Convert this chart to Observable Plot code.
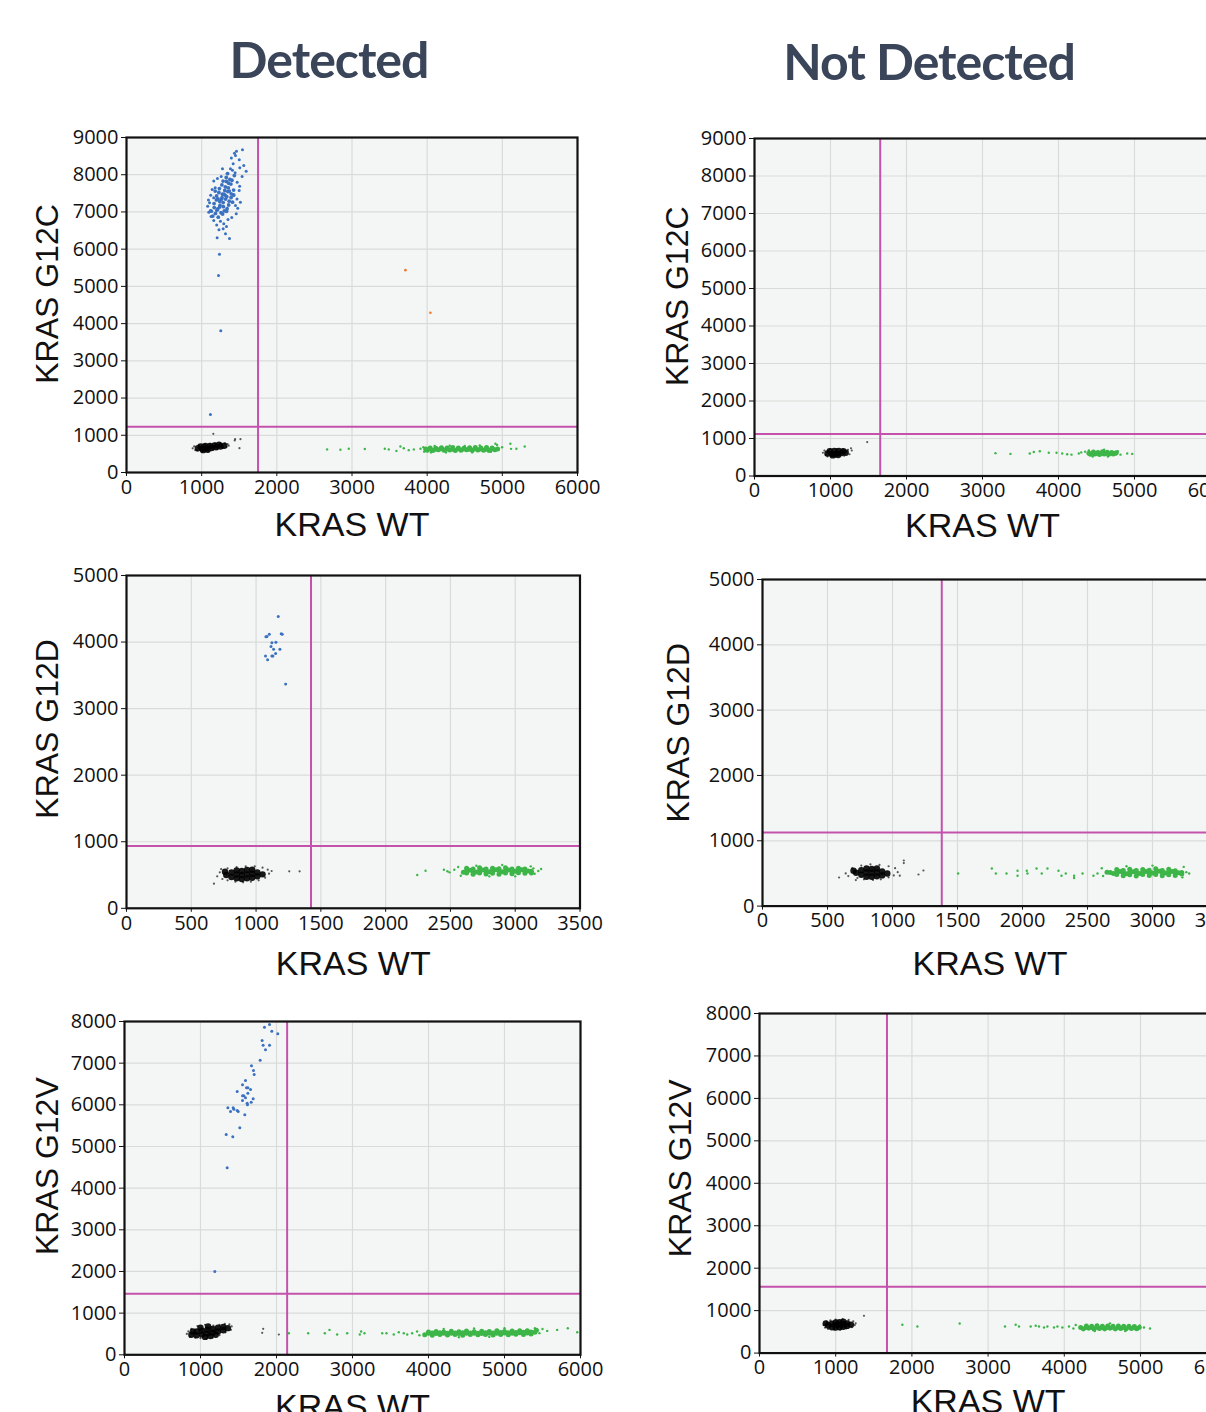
<!DOCTYPE html>
<html>
<head>
<meta charset="utf-8">
<script src="https://cdn.jsdelivr.net/npm/d3@7"></script>
<script src="https://cdn.jsdelivr.net/npm/@observablehq/plot@0.6"></script>
<style>
  html, body { margin: 0; padding: 0; background: #fff; }
  #page { position: relative; width: 1206px; height: 1412px; overflow: hidden; background: #fff; }
  .title { position: absolute; width: 420px; text-align: center; font-family: Lato, "Open Sans", sans-serif; font-weight: 700; font-size: 50px; letter-spacing: -1px; line-height: 50px; color: #3b4559; white-space: nowrap; }
  .panel { position: absolute; }
</style>
</head>
<body>
<div id="page">
  <div class="title" style="left:119px; top:34px;">Detected</div>
  <div class="title" style="left:719px; top:36px;">Not Detected</div>
</div>
<script>
// ---------- tick values ----------
const xTicks6000 = [0, 1000, 2000, 3000, 4000, 5000, 6000];
const xTicks3500 = [0, 500, 1000, 1500, 2000, 2500, 3000, 3500];
const yTicks9000 = [0, 1000, 2000, 3000, 4000, 5000, 6000, 7000, 8000, 9000];
const yTicks5000 = [0, 1000, 2000, 3000, 4000, 5000];
const yTicks8000 = [0, 1000, 2000, 3000, 4000, 5000, 6000, 7000, 8000];

const columnTitles = ["Detected", "Not Detected"];
const xAxisLabel = "KRAS WT";
const yAxisLabels = ["KRAS G12C", "KRAS G12D", "KRAS G12V"];

// thresholds [x, y] per panel
const thresholds = [[1750, 1230], [1654, 1117], [1424, 935], [1379, 1127], [2140, 1464], [1673, 1562]];

// ---------- Panel 1: G12C detected ----------
const p1BlueCore = [[1148,6890],[1221,6860],[1279,6945],[1128,7022],[1203,7047],[1258,6978],[1331,7019],
  [1167,7118],[1214,7082],[1289,7142],[1338,7089],[1165,7224],[1244,7176],[1286,7251],[1359,7186],[1411,7262],
  [1196,7322],[1241,7279],[1318,7347],[1366,7288],[1199,7428],[1271,7381],[1314,7447],[1392,7388],[1425,7459],
  [1229,7523],[1276,7478],[1349,7546],[1393,7487],[1236,7628],[1308,7577],[1355,7649],[1425,7588],
  [1269,7726],[1315,7672],[1389,7748],[1285,7828],[1359,7774],[1403,7851],[1327,7925],[1375,7874],[1345,8032],
  [1435,7978],[1183,6960],[1239,7130],[1301,7030],[1262,7340],[1334,7410],[1218,7350],[1367,7560],[1298,7480],
  [1180,7560],[1330,7820]];
const p1Blue = [[1543,8671],[1463,8633],[1436,8580],[1450,8518],[1592,8096],[1507,8187],[1419,8294],[1383,8160],
  [1277,8160],[1339,8026],[1161,7828],[1538,7953],[1472,7800],[1499,7577],[1428,7443],[1450,7174],[1117,7040],
  [1095,6994],[1161,6771],[1294,6683],[1286,6548],[1330,6610],[1317,6414],[1206,6306],[1370,6288],[1250,6753],
  [1105,7250],[1120,7450],[1180,7650],[1210,7900],[1470,7350],[1480,7100],[1400,6850],[1350,6800],[1200,6650],
  [1560,8250],[1260,7950],[1500,8400],[1395,8450],[1140,7600],[1080,7150],[1460,6950],[1125,6880],[1505,7690],
  [1445,8050],[1230,6520],[1160,7380],[1515,7260],[1090,7320],[1410,8120],
  [1237,5866],[1224,5293],[1254,3807],[1117,1558]];
const p1BlackCore = [[950,650],[1010,640],[1070,650],[1130,660],[1190,680],[1250,700],[1300,720],[990,700],
  [1050,710],[1110,715],[1170,730],[1230,745],[1020,600],[1080,610]];
const p1Black = [[880,650],[900,700],[915,600],[960,740],[1040,760],[1110,770],[1180,785],[1250,790],[1310,780],
  [1345,760],[1360,720],[1330,690],[1280,660],[1210,630],[1150,610],[1090,575],[1010,570],[940,590],
  [1155,1040],[1445,895],[1516,895],[1503,653],[1440,860]];
const p1GreenCore = [[4000,600],[4075,590],[4150,610],[4225,595],[4300,605],[4375,590],[4450,600],[4525,610],
  [4600,595],[4675,605],[4750,600],[4825,590],[4900,610],[4040,660],[4115,650],[4190,665],[4265,655],[4340,670],
  [4415,660],[4490,650],[4565,665],[4640,675],[4715,660],[4790,670],[4865,655],
  [3980,630],[4037,630],[4112,625],[4187,635],[4262,630],[4337,625],[4412,635],[4487,630],[4562,625],[4637,635],
  [4712,630],[4787,625],[4862,635],[4937,630]];
const p1Green = [[2669,620],[2846,610],[2957,640],[3170,630],[3436,640],[3489,620],[3591,580],[3644,700],[3689,650],
  [3755,600],[3822,620],[3911,640],[3960,560],[4100,710],[4300,720],[4500,710],[4700,730],[4930,740],[4997,680],
  [5107,771],[5116,636],[5187,640],[5298,699],[4908,771],[4050,540],[4250,540],[4600,540],[4850,560],[3950,680]];
const p1Orange = [[3711,5436],[4043,4291]];

// ---------- Panel 2: G12C not detected ----------
const p2BlackCore = [[960,600],[1020,590],[1080,600],[1140,610],[1200,620],[990,660],[1050,670],[1110,665],
  [1170,660],[1030,550],[1100,560]];
const p2Black = [[900,620],[920,680],[940,560],[1000,720],[1080,720],[1160,710],[1230,700],[1270,740],[1280,680],
  [1250,580],[1180,540],[1060,510],[960,520],[1483,904]];
const p2GreenCore = [[4420,580],[4480,590],[4540,575],[4600,585],[4660,580],[4720,590],[4460,640],[4520,630],
  [4580,645],[4640,635],[4700,630],[4760,620],
  [4400,610],[4450,610],[4510,605],[4570,615],[4630,610],[4690,605],[4750,610]];
const p2Green = [[3171,610],[3368,590],[3622,600],[3675,640],[3754,660],[3872,620],[3974,620],[4049,600],[4114,580],
  [4171,570],[4267,600],[4299,630],[4350,650],[4400,680],[4816,570],[4904,600],[4970,590],[4780,660],[4600,700],
  [4450,520],[4650,520]];

// ---------- Panel 3: G12D detected ----------
const p3Blue = [[1171,4384],[1084,4084],[1102,4119],[1076,4079],[1194,4124],[1202,4119],[1122,3988],[1153,3998],
  [1115,3934],[1135,3893],[1184,3893],[1151,3829],[1122,3789],[1130,3789],[1073,3789],[1089,3733],[1228,3368]];
const p3BlackCore = [[770,500],[810,470],[810,540],[850,450],[850,510],[850,570],[890,440],[890,500],[890,560],
  [930,450],[930,510],[930,575],[970,460],[970,520],[970,580],[1010,480],[1010,540],[1050,510],[760,550]];
const p3Black = [[700,480],[720,540],[740,440],[780,420],[840,400],[900,390],[960,400],[1020,420],[1070,460],
  [1100,520],[1090,580],[1050,610],[990,630],[920,630],[850,620],[780,600],[730,590],[1256,556],[1336,556],
  [675,370],[1120,560]];
const p3GreenCore = [[2600,540],[2650,570],[2700,545],[2750,575],[2800,550],[2850,580],[2900,550],[2950,575],
  [3000,555],[3050,580],[3100,560],[2625,600],[2725,610],[2825,600],[2925,610],[3025,600],[2675,510],[2775,515],
  [2875,510],[2975,520],[3075,525],
  [2625,560],[2675,555],[2725,560],[2775,555],[2825,565],[2875,560],[2925,555],[2975,560],[3025,565],[3075,560],
  [3125,555],[2675,590],[2775,590],[2875,595],[2975,590],[3075,590],[2625,530],[2725,530],[2825,525],[2925,530],
  [3025,535],[3125,530]];
const p3Green = [[2244,500],[2308,565],[2477,556],[2493,540],[2530,580],[2560,620],[2580,490],[3140,600],[3178,560],
  [3200,590],[3150,520],[3120,630],[2700,640],[2900,650],[2800,480],[3000,480],[2450,580]];

// ---------- Panel 4: G12D not detected ----------
const p4BlackCore = [[720,510],[760,480],[760,550],[800,450],[800,515],[800,575],[840,450],[840,510],[840,570],
  [880,455],[880,515],[880,575],[920,470],[920,530],[960,500],[700,540]];
const p4Black = [[640,500],[660,460],[690,580],[730,430],[780,410],[850,400],[910,410],[970,440],[1010,470],
  [1040,520],[1020,580],[970,610],[900,630],[830,640],[760,620],[1087,698],[1087,658],[1200,484],[1238,545],
  [589,438],[718,398],[1056,465]];
const p4GreenCore = [[2700,500],[2750,530],[2800,495],[2850,525],[2900,500],[2950,530],[3000,505],[3050,535],
  [3100,505],[3150,530],[3200,510],[2725,560],[2825,565],[2925,560],[3025,570],[3125,565],[2775,465],[2875,460],
  [2975,470],[3075,465],[3175,470],[2650,520],
  [2675,515],[2725,515],[2775,510],[2825,515],[2875,520],[2925,515],[2975,510],[3025,515],[3075,520],[3125,515],
  [3175,510],[3225,515],[2775,545],[2875,545],[2975,550],[3075,545],[3175,540],[2725,485],[2825,480],[2925,485],
  [3025,485],[3125,480],[3225,490]];
const p4Green = [[1505,499],[1764,576],[1795,499],[1877,499],[1962,541],[1962,464],[2033,541],[2038,499],[2108,576],
  [2148,499],[2192,576],[2277,541],[2300,464],[2333,499],[2397,464],[2397,429],[2462,499],[2546,464],[2577,499],
  [2610,580],[2620,460],[3240,600],[3260,520],[3282,499],[3230,440],[3000,620],[2800,610]];

// ---------- Panel 5: G12V detected ----------
const p5Blue = [[1842,7862],[1908,7927],[1938,7766],[2017,7703],[1811,7543],[1824,7430],[1908,7430],[1855,7319],
  [1785,7070],[1671,6935],[1697,6823],[1706,6727],[1592,6583],[1553,6479],[1623,6407],[1605,6407],[1658,6367],
  [1483,6319],[1623,6279],[1553,6215],[1570,6215],[1592,6167],[1693,6143],[1553,6103],[1667,6062],[1614,6038],
  [1618,6000],[1360,5928],[1430,5928],[1439,5894],[1395,5839],[1483,5863],[1496,5839],[1583,5760],[1517,5448],
  [1338,5287],[1425,5232],[1351,4488],[1188,1999]];
const p5BlackCore = [[880,480],[950,470],[950,560],[1020,490],[1020,580],[1090,510],[1090,600],[1160,530],
  [1160,620],[1230,560],[1230,650],[1300,590],[1300,670],[1360,640],[1060,430],[1130,450],[1200,480],[900,560],
  [1000,650],[1100,680]];
const p5Black = [[820,500],[840,560],[860,430],[930,410],[1000,400],[1080,390],[1160,410],[1250,470],[1330,540],
  [1400,600],[1410,680],[1380,730],[1320,740],[1250,720],[1170,700],[1060,720],[960,690],[880,620],
  [1825,624],[1812,528],[2031,487]];
const p5GreenCore = [[3950,480],[4050,470],[4150,490],[4250,475],[4350,485],[4450,470],[4550,490],[4650,480],
  [4750,485],[4850,475],[4950,490],[5050,480],[5150,495],[5250,485],[5350,500],[4000,550],[4100,560],[4200,545],
  [4300,565],[4400,555],[4500,570],[4600,555],[4700,565],[4800,560],[4900,575],[5000,560],[5100,570],[5200,580],
  [5300,575],[5420,590],
  [4000,515],[4100,510],[4200,520],[4300,515],[4400,510],[4500,520],[4600,515],[4700,510],[4800,520],[4900,515],
  [5000,525],[5100,520],[5200,530],[5300,525],[5400,540],[4050,525],[4150,530],[4250,520],[4350,525],[4450,530],
  [4550,525],[4650,520],[4750,530],[4850,525],[4950,535],[5050,530],[5150,535],[5250,540],[5350,545]];
const p5Green = [[2162,518],[2417,518],[2636,518],[2697,598],[2798,486],[2930,518],[3096,486],[3114,558],[3158,518],
  [3391,518],[3447,518],[3543,486],[3609,542],[3675,518],[3720,486],[3785,518],[3850,560],[3880,470],[5500,620],
  [5562,574],[5693,598],[5833,638],[5957,542],[5460,520],[5400,640],[4400,420],[4800,430],[4200,620],[4600,630],
  [5000,640]];

// ---------- Panel 6: G12V not detected ----------
const p6BlackCore = [[900,650],[950,610],[950,690],[1000,600],[1000,660],[1000,720],[1050,610],[1050,670],
  [1050,730],[1100,620],[1100,680],[1100,740],[1150,640],[1150,700],[1200,670],[870,700]];
const p6Black = [[840,660],[860,600],[900,570],[980,550],[1060,550],[1140,580],[1210,610],[1250,660],[1262,700],
  [1230,750],[1170,780],[1090,800],[1000,790],[930,770],[880,740],[1371,879]];
const p6GreenCore = [[4250,570],[4320,585],[4390,565],[4460,580],[4530,570],[4600,585],[4670,570],[4740,580],
  [4810,570],[4880,580],[4950,575],[4290,640],[4360,630],[4430,645],[4500,635],[4570,640],[4640,630],[4710,640],
  [4780,635],[4850,630],[4920,625],
  [4215,605],[4285,605],[4355,600],[4425,610],[4495,605],[4565,600],[4635,610],[4705,605],[4775,600],[4845,610],
  [4915,605],[4985,600]];
const p6Green = [[1875,667],[2072,627],[2627,698],[3222,627],[3362,667],[3406,627],[3559,627],[3625,645],[3668,627],
  [3734,603],[3778,627],[3865,603],[3910,627],[3975,603],[4062,627],[4120,580],[4150,660],[5046,603],[5125,580],
  [4990,650],[4600,700],[4400,520],[4800,520]];

// ---------- layout (positions / styles only) ----------
const COLORS = { blue: "#3b71c1", green: "#3db548", black: "#000", orange: "#f07a2a", magenta: "#c452ad",
  bg: "#f4f6f5", grid: "#d9dbda" };

const panels = [
  { frame: [126, 577, 137, 472], xDomain: [0, 6000], yDomain: [0, 9000], xTicks: xTicks6000, yTicks: yTicks9000,
    ylabel: yAxisLabels[0], ydx: -79, ydy: -11, xdy: 53, thr: thresholds[0],
    blue: p1Blue, blueCore: p1BlueCore, black: p1Black, blackCore: p1BlackCore, green: p1Green, greenCore: p1GreenCore, orange: p1Orange },
  { frame: [754, 1210, 137.7, 475.2], xDomain: [0, 6000], yDomain: [0, 9000], xTicks: xTicks6000, yTicks: yTicks9000,
    ylabel: yAxisLabels[0], ydx: -77, ydy: -11, xdy: 50, thr: thresholds[1],
    blue: [], blueCore: [], black: p2Black, blackCore: p2BlackCore, green: p2Green, greenCore: p2GreenCore, orange: [] },
  { frame: [126.2, 579.7, 574.5, 907.3], xDomain: [0, 3500], yDomain: [0, 5000], xTicks: xTicks3500, yTicks: yTicks5000,
    ylabel: yAxisLabels[1], ydx: -79, ydy: -13, xdy: 56, thr: thresholds[2],
    blue: p3Blue, blueCore: [], black: p3Black, blackCore: p3BlackCore, green: p3Green, greenCore: p3GreenCore, orange: [] },
  { frame: [761.7, 1216.7, 578.7, 905.3], xDomain: [0, 3500], yDomain: [0, 5000], xTicks: xTicks3500, yTicks: yTicks5000,
    ylabel: yAxisLabels[1], ydx: -84, ydy: -10, xdy: 58, thr: thresholds[3],
    blue: [], blueCore: [], black: p4Black, blackCore: p4BlackCore, green: p4Green, greenCore: p4GreenCore, orange: [] },
  { frame: [124, 580, 1021, 1354.3], xDomain: [0, 6000], yDomain: [0, 8000], xTicks: xTicks6000, yTicks: yTicks8000,
    ylabel: yAxisLabels[2], ydx: -77, ydy: -22, xdy: 52, thr: thresholds[4],
    blue: p5Blue, blueCore: [], black: p5Black, blackCore: p5BlackCore, green: p5Green, greenCore: p5GreenCore, orange: [] },
  { frame: [758.8, 1216, 1012.7, 1352.3], xDomain: [0, 6000], yDomain: [0, 8000], xTicks: xTicks6000, yTicks: yTicks8000,
    ylabel: yAxisLabels[2], ydx: -79, ydy: -15, xdy: 49, thr: thresholds[5],
    blue: [], blueCore: [], black: p6Black, blackCore: p6BlackCore, green: p6Green, greenCore: p6GreenCore, orange: [] }
];

const page = document.getElementById("page");
const mL = 120, mR = 40, mT = 20, mB = 80;
const fmt = d => String(d);
const px = d => d[0], py = d => d[1];

for (const p of panels) {
  const [l, r, t, b] = p.frame;
  const fw = r - l, fh = b - t;
  const svg = Plot.plot({
    width: fw + mL + mR, height: fh + mT + mB,
    marginLeft: mL, marginRight: mR, marginTop: mT, marginBottom: mB,
    x: { domain: p.xDomain },
    y: { domain: p.yDomain },
    style: { fontFamily: "'Open Sans', 'Noto Sans', sans-serif", fontSize: "20px", color: "#111", background: "transparent", overflow: "visible" },
    marks: [
      Plot.frame({ fill: COLORS.bg, stroke: null }),
      Plot.gridX(p.xTicks, { stroke: COLORS.grid, strokeOpacity: 1, strokeWidth: 1.2 }),
      Plot.gridY(p.yTicks, { stroke: COLORS.grid, strokeOpacity: 1, strokeWidth: 1.2 }),
      Plot.axisX(p.xTicks, { tickSize: 4, tickPadding: 3, tickFormat: fmt, label: null, fontSize: 20, stroke: "#111" }),
      Plot.axisY(p.yTicks, { tickSize: 5, tickPadding: 3, tickFormat: fmt, label: null, fontSize: 20, stroke: "#111" }),
      Plot.ruleX([p.thr[0]], { stroke: COLORS.magenta, strokeWidth: 2 }),
      Plot.ruleY([p.thr[1]], { stroke: COLORS.magenta, strokeWidth: 2 }),
      Plot.dot(p.green, { x: px, y: py, r: 1.2, fill: COLORS.green }),
      Plot.dot(p.greenCore, { x: px, y: py, r: 2.5, fill: COLORS.green }),
      Plot.dot(p.blue, { x: px, y: py, r: 1.5, fill: COLORS.blue }),
      Plot.dot(p.blueCore, { x: px, y: py, r: 1.9, fill: COLORS.blue }),
      Plot.dot(p.black, { x: px, y: py, r: 1.1, fill: "#222", fillOpacity: 0.75 }),
      Plot.dot(p.blackCore, { x: px, y: py, r: 3.2, fill: COLORS.black, fillOpacity: 0.9 }),
      Plot.dot(p.orange, { x: px, y: py, r: 1.3, fill: COLORS.orange }),
      Plot.frame({ stroke: "#111", strokeWidth: 2.2, fill: "none" }),
      Plot.text([xAxisLabel], { text: d => d, frameAnchor: "bottom", textAnchor: "middle", lineAnchor: "middle",
        dy: p.xdy, fontSize: 34, fontFamily: "'Liberation Sans', Arial, sans-serif", fill: "#111" }),
      Plot.text([p.ylabel], { text: d => d, frameAnchor: "left", textAnchor: "middle", lineAnchor: "middle",
        dx: p.ydx, dy: p.ydy, rotate: -90, fontSize: 32, fontFamily: "'Liberation Sans', Arial, sans-serif", fill: "#111" })
    ]
  });
  svg.classList.add("panel");
  svg.style.left = (l - mL) + "px";
  svg.style.top = (t - mT) + "px";
  page.appendChild(svg);
}
</script>
</body>
</html>
